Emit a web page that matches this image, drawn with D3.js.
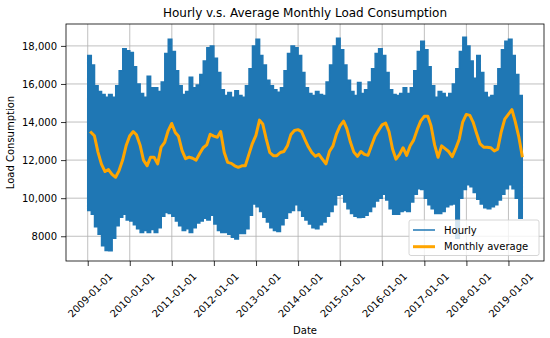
<!DOCTYPE html>
<html>
<head>
<meta charset="utf-8">
<script src="https://cdn.jsdelivr.net/npm/d3@7"></script>
<style>
  body { margin: 0; background: #fff; }
  svg { display: block; font-family: "DejaVu Sans", sans-serif; overflow: visible; }
</style>
</head>
<body>
<svg width="550" height="338"></svg>
<script>
// monthly average load (Jan 2009 .. Apr 2019)
const monthlyAvg = [
  13450, 13280, 12420, 11790, 11400, 11500, 11250, 11100, 11450, 12000, 12750, 13270,
  13500, 13330, 12800, 12000, 11700, 12150, 12150, 11800, 12680, 12930, 13540, 13925,
  13450, 13250, 12500, 12080, 12160, 12100, 12000, 12350, 12650, 12800, 13360, 13260,
  13200, 13500, 12400, 11880, 11830, 11700, 11620, 11700, 11700, 12300, 12870, 13300,
  14100, 13900, 13100, 12400, 12230, 12230, 12400, 12450, 12750, 13350, 13560, 13600,
  13500, 13100, 12700, 12400, 12200, 12300, 12050, 11800, 12450, 12750, 13370, 13800,
  14050, 13650, 12950, 12420, 12200, 12450, 12300, 12250, 12750, 13250, 13560, 13850,
  13950, 13500, 12580, 12050, 12300, 12650, 12250, 12750, 13050, 13600, 14050, 14300,
  14300, 13800, 12800, 12150, 12750, 12600, 12450, 12180, 12600, 13100, 14000, 14400,
  14350, 14000, 13400, 12850, 12680, 12680, 12650, 12480, 12580, 13500, 14150, 14400,
  14650, 14050, 13250, 12230
];

// hourly series envelope per month (highest / lowest hourly reading)
const hourlyMax = [
  17500, 17000, 15900, 15600, 15450, 15300, 15450, 15300, 15900, 16700, 17850, 17750,
  17650, 16900, 16000, 15500, 15300, 16400, 15800, 15800, 15600, 16100, 17600, 18350,
  17700, 16700, 15900, 15450, 15600, 16350, 15800, 15950, 16500, 17200, 17900, 18000,
  17350, 16600, 15700, 15400, 15550, 15300, 15650, 15400, 15300, 15900, 16800, 18000,
  18350, 17500, 17000, 16200, 15900, 15700, 15560, 15800, 16700, 17600, 18000, 17900,
  17500, 16600, 15800, 15500, 15400, 15600, 15450, 15400, 16100, 17000, 18000, 18400,
  17800, 17000, 16200, 15600, 15400, 16080, 15500, 15700, 16100, 16800, 17600, 17850,
  17500, 16600, 15700, 15450, 15400, 15500, 15800, 15500, 15800, 16700, 17700, 18250,
  17800, 16900, 15900, 15300, 15600, 15500, 15300, 15500, 16000, 16800, 17700, 18450,
  18000, 17200, 16300, 17500, 16600, 15550, 15300, 15400, 15900, 16800, 17800, 18250,
  18350, 17500, 16500, 15400
];
const hourlyMin = [
  9350, 9150, 8500, 8100, 7500, 7250, 7240, 7900, 8550, 9000, 9150, 8850,
  8800, 8600, 8400, 8200, 8300, 8200, 8350, 8200, 8450, 9050, 9250, 9200,
  9050, 8800, 8550, 8300, 8400, 8200, 8450, 8700, 8800, 8950, 8850, 9100,
  8650, 8300, 8200, 8200, 8100, 7950, 7850, 8150, 8150, 8400, 9100, 9700,
  9550, 9300, 9000, 8750, 8450, 8300, 8250, 8600, 8950, 9250, 9350, 9650,
  9350, 9050, 8850, 8650, 8450, 8400, 8600, 8750, 9050, 9300, 9650, 10150,
  10200, 9800, 9450, 9200, 9050, 8990, 9000, 9100, 9300, 9550, 9850, 10000,
  10200, 9900, 9450, 9150, 9150, 9300, 9350, 9300, 9800, 10200, 10500, 10450,
  10000, 9650, 9450, 9200, 9200, 9300, 9550, 9650, 9700, 7900, 10000, 10450,
  10700, 10600, 10300, 9950, 9700, 9500, 9450, 9550, 9650, 9900, 10200, 10500,
  10700, 10500, 10000, 8950
];

const yTicks = [8000, 10000, 12000, 14000, 16000, 18000];
const xTickYears = [2009, 2010, 2011, 2012, 2013, 2014, 2015, 2016, 2017, 2018, 2019];

const svg = d3.select('svg');
const width = 550;
const height = 338;
const margin = { top: 24, right: 6, bottom: 77, left: 66 };
const innerWidth = width - margin.left - margin.right;
const innerHeight = height - margin.top - margin.bottom;

const months = d3.timeMonth.range(new Date(2009, 0, 1), new Date(2019, 4, 1));
const dataStart = months[0];
const dataEnd = new Date(2019, 4, 1);
const pad = (dataEnd - dataStart) * 0.05;

const x = d3.scaleTime()
    .domain([new Date(+dataStart - pad), new Date(+dataEnd + pad)])
    .range([0, innerWidth]);
const y = d3.scaleLinear()
    .domain([6700, 19150])
    .range([innerHeight, 0]);

const g = svg.append('g')
    .attr('transform', `translate(${margin.left},${margin.top})`);

// grid
g.append('g')
  .selectAll('line')
  .data(yTicks)
  .join('line')
    .attr('x1', 0).attr('x2', innerWidth)
    .attr('y1', d => y(d)).attr('y2', d => y(d))
    .attr('stroke', '#b0b0b0').attr('stroke-width', 0.8);
g.append('g')
  .selectAll('line')
  .data(xTickYears)
  .join('line')
    .attr('x1', d => x(new Date(d, 0, 1))).attr('x2', d => x(new Date(d, 0, 1)))
    .attr('y1', 0).attr('y2', innerHeight)
    .attr('stroke', '#b0b0b0').attr('stroke-width', 0.8);

// hourly band, one step per month
const band = months.map((m, i) => ({ date: m, lo: hourlyMin[i], hi: hourlyMax[i] }));
band.push({ date: dataEnd, lo: hourlyMin[hourlyMin.length - 1], hi: hourlyMax[hourlyMax.length - 1] });

const area = d3.area()
    .curve(d3.curveStepAfter)
    .x(d => x(d.date))
    .y0(d => y(d.lo))
    .y1(d => y(d.hi));

g.append('path')
    .datum(band)
    .attr('d', area)
    .attr('fill', '#1f77b4')
    .attr('stroke', '#1f77b4')
    .attr('stroke-width', 1.5)
    .attr('stroke-linejoin', 'miter');

// monthly average line, plotted at month end
const avg = months.map((m, i) => ({ date: new Date(m.getFullYear(), m.getMonth() + 1, 0), v: monthlyAvg[i] }));
const line = d3.line()
    .x(d => x(d.date))
    .y(d => y(d.v));

g.append('path')
    .datum(avg)
    .attr('d', line)
    .attr('fill', 'none')
    .attr('stroke', '#ffa500')
    .attr('stroke-width', 3)
    .attr('stroke-linejoin', 'round')
    .attr('stroke-linecap', 'square');

// axes
const yAxis = d3.axisLeft(y)
    .tickValues(yTicks)
    .tickSize(5)
    .tickPadding(4)
    .tickFormat(d => d >= 10000 ? d3.format(',')(d) : d3.format('d')(d));
const yG = g.append('g').call(yAxis);
yG.select('.domain').remove();
yG.selectAll('text').attr('font-size', 10).attr('fill', '#000').attr('font-family', 'DejaVu Sans');
yG.selectAll('line').attr('stroke', '#000').attr('stroke-width', 0.8);

const xAxis = d3.axisBottom(x)
    .tickValues(xTickYears.map(yr => new Date(yr, 0, 1)))
    .tickSize(5)
    .tickFormat(d3.timeFormat('%Y-%m-%d'));
const xG = g.append('g')
    .attr('transform', `translate(0,${innerHeight})`)
    .call(xAxis);
xG.select('.domain').remove();
xG.selectAll('line').attr('stroke', '#000').attr('stroke-width', 0.8);
xG.selectAll('text')
    .attr('font-size', 10)
    .attr('font-family', 'DejaVu Sans')
    .attr('fill', '#000')
    .attr('text-anchor', 'end')
    .attr('y', 0)
    .attr('dy', '0.35em')
    .each(function() {
      const len = this.getComputedTextLength();
      const h = len * 0.3536;
      d3.select(this)
        .attr('transform', `translate(${h + 2},${13.5}) rotate(-45)`);
    });

// spines
g.append('rect')
    .attr('width', innerWidth)
    .attr('height', innerHeight)
    .attr('fill', 'none')
    .attr('stroke', '#000')
    .attr('stroke-width', 0.8);

// labels
svg.append('text')
    .attr('x', margin.left + innerWidth / 2)
    .attr('y', 16.5)
    .attr('text-anchor', 'middle')
    .attr('font-size', 12)
    .text('Hourly v.s. Average Monthly Load Consumption');

svg.append('text')
    .attr('x', margin.left + innerWidth / 2)
    .attr('y', 334)
    .attr('text-anchor', 'middle')
    .attr('font-size', 10)
    .text('Date');

svg.append('text')
    .attr('transform', `translate(14,${margin.top + innerHeight / 2}) rotate(-90)`)
    .attr('text-anchor', 'middle')
    .attr('font-size', 10)
    .text('Load Consumption');

// legend
const legendItems = [
  { label: 'Hourly', color: '#1f77b4', w: 1.5 },
  { label: 'Monthly average', color: '#ffa500', w: 3 }
];
const lg = svg.append('g').attr('transform', 'translate(409,220)');
lg.append('rect')
    .attr('width', 130).attr('height', 35.5)
    .attr('rx', 2)
    .attr('fill', '#fff').attr('fill-opacity', 0.8)
    .attr('stroke', '#cccccc').attr('stroke-width', 0.8);
const rows = lg.selectAll('g.row')
  .data(legendItems)
  .join('g')
    .attr('class', 'row')
    .attr('transform', (d, i) => `translate(0,${10 + i * 16.7})`);
rows.append('line')
    .attr('x1', 4).attr('x2', 26)
    .attr('stroke', d => d.color)
    .attr('stroke-width', d => d.w);
rows.append('text')
    .attr('x', 35)
    .attr('y', 3.6)
    .attr('font-size', 10)
    .text(d => d.label);
</script>
</body>
</html>
